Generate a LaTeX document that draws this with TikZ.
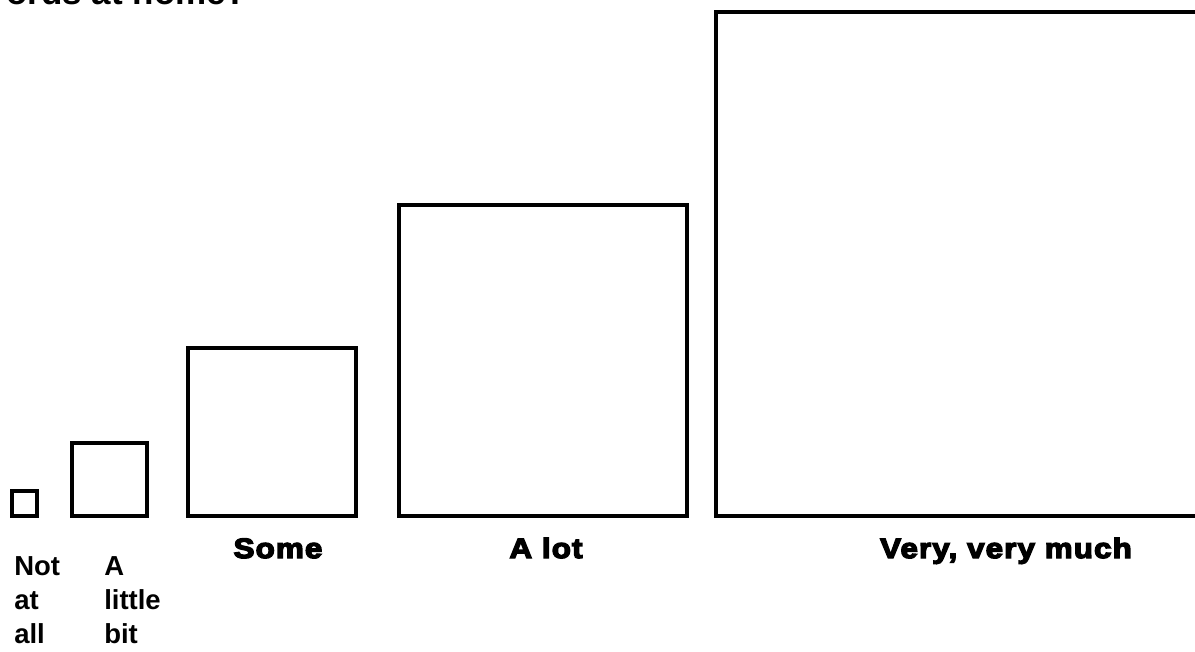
\documentclass[tikz,border=0pt]{standalone}
\usepackage{fontspec}
\setmainfont{Liberation Sans}
\newfontfamily\heavyfont{Liberation Sans}[BoldFeatures={FakeBold=5,FakeStretch=1.12,LetterSpace=4}]

\begin{document}
\begin{tikzpicture}[
            x=0.75pt,
            y=-0.75pt,
            box/.style={draw=black, line width=3.4pt},
            answer/.style={font=\heavyfont\bfseries\fontsize{21}{25}\selectfont, inner sep=0pt, anchor=base},
            small/.style={font=\bfseries\fontsize{20.6}{25.5}\selectfont, align=left, inner sep=0pt, anchor=north west}
        ]

            % --- Frame ---
            \useasboundingbox (0,0) rectangle (1195,651);
            \path[clip] (0,0) rectangle (1195,651);

            % --- Box Corners ---
            \coordinate (T1) at (12,491);   \coordinate (U1) at (37,516);
            \coordinate (T2) at (72,443);   \coordinate (U2) at (147,516);
            \coordinate (T3) at (188,348);  \coordinate (U3) at (356,516);
            \coordinate (T4) at (399,205);  \coordinate (U4) at (687,516);
            \coordinate (T5) at (716,12);   \coordinate (U5) at (1197,516); % runs off the right edge

            % --- Question (cut off at the top) ---
            \node[font=\bfseries\fontsize{26.25}{30}\selectfont, inner sep=0pt, anchor=base west] (question) at (6,4) {ords at home?};

            % --- Squares ---
            \draw[box] (T1) rectangle (U1);
            \draw[box] (T2) rectangle (U2);
            \draw[box] (T3) rectangle (U3);
            \draw[box] (T4) rectangle (U4);
            \draw[box] (T5) rectangle (U5);

            % --- Labels ---
            \node[small] (notatall) at (14,556) {Not\\at\\all};
            \node[small] (alittle)  at (104,556) {A\\little\\bit};
            \node[answer] (some)     at (278,558) {Some};
            \node[answer] (alot)     at (546,558) {A lot};
            \node[answer] (verymuch) at (1006,558) {Very, very much};

        \end{tikzpicture}
\end{document}
